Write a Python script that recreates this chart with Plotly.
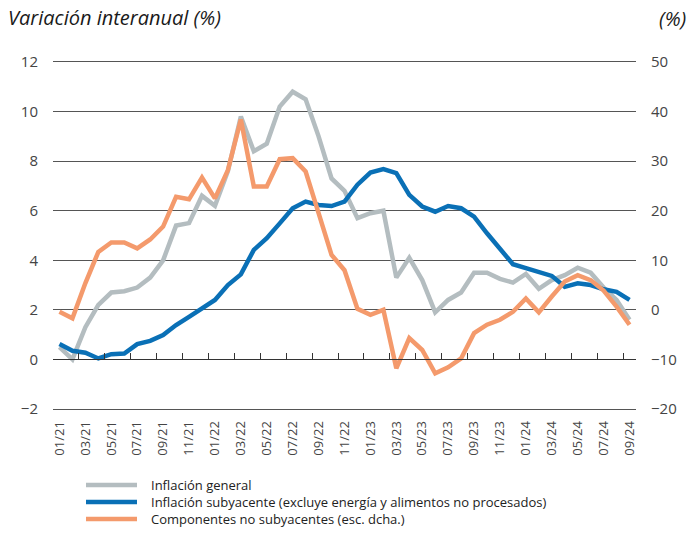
import plotly.graph_objects as go

# ---- data ----
months = [f"{m:02d}/{y:02d}" for y in (21, 22, 23, 24) for m in range(1, 13)][:45]

general = [0.5, 0.0, 1.3, 2.2, 2.7, 2.75, 2.9, 3.3, 4.0, 5.4, 5.5, 6.6,
           6.2, 7.6, 9.8, 8.4, 8.7, 10.2, 10.8, 10.5, 9.0, 7.3, 6.8, 5.7,
           5.9, 6.0, 3.3, 4.1, 3.2, 1.9, 2.4, 2.7, 3.5, 3.5, 3.25, 3.1,
           3.45, 2.85, 3.2, 3.4, 3.7, 3.5, 2.9, 2.4, 1.6]

core = [0.62, 0.35, 0.27, 0.04, 0.21, 0.24, 0.62, 0.75, 0.98, 1.39, 1.72, 2.06,
        2.4, 3.0, 3.43, 4.42, 4.89, 5.49, 6.1, 6.37, 6.23, 6.19, 6.37, 7.05,
        7.54, 7.68, 7.52, 6.64, 6.17, 5.96, 6.19, 6.1, 5.76, 5.09, 4.48, 3.84,
        3.68, 3.54, 3.37, 2.93, 3.07, 3.0, 2.83, 2.73, 2.4]

noncore = [-0.4, -1.7, 5.4, 11.7, 13.6, 13.6, 12.4, 14.2, 16.8, 22.8, 22.3, 26.7,
           22.5, 28.2, 38.4, 24.9, 24.9, 30.4, 30.6, 27.9, 19.5, 11.1, 8.0, 0.2,
           -1.0, 0.0, -11.8, -5.7, -8.1, -12.8, -11.6, -9.8, -4.7, -3.0, -2.0, -0.4,
           2.3, -0.5, 2.7, 5.7, 7.0, 6.0, 3.9, 0.65, -3.0]

names = ["Inflación general",
         "Inflación subyacente (excluye energía y alimentos no procesados)",
         "Componentes no subyacentes (esc. dcha.)"]
colors = ["#b4bdc0", "#0a70b6", "#f49a6c"]

left_range = [-2, 12]
right_range = [-20, 50]
tick_boundaries = [i - 0.5 for i in range(0, 45, 2)]

FONT = "Open Sans, Noto Sans, sans-serif"
GRID = "#555555"
W, H = 693, 534
ML, MR, MT, MB = 53, 57, 62, 125
PW, PH = W - ML - MR, H - MT - MB

fig = go.Figure()
fig.add_trace(go.Scatter(x=months, y=general, name=names[0], mode="lines",
                         line=dict(color=colors[0], width=4.5)))
fig.add_trace(go.Scatter(x=months, y=core, name=names[1], mode="lines",
                         line=dict(color=colors[1], width=4.5)))
fig.add_trace(go.Scatter(x=months, y=noncore, name=names[2], mode="lines",
                         line=dict(color=colors[2], width=4.5), yaxis="y2"))
# empty trace so the tick-axis at zero is rendered
fig.add_trace(go.Scatter(x=[], y=[], xaxis="x2", yaxis="y", showlegend=False,
                         hoverinfo="skip"))

fig.update_layout(
    width=W, height=H,
    margin=dict(l=ML, r=MR, t=MT, b=MB, autoexpand=False),
    paper_bgcolor="white", plot_bgcolor="white",
    font=dict(family=FONT, color="#444444"),
    showlegend=False,
    xaxis=dict(type="category", range=[-0.5, 44.5], tickmode="array",
               tickvals=months[::2], ticktext=months[::2], tickangle=-90,
               ticks="", showline=True, linecolor=GRID, linewidth=1, mirror=True,
               showgrid=False, zeroline=False, tickfont=dict(size=13, color="#444444"),
               ticklabelstandoff=6),
    xaxis2=dict(type="linear", overlaying="x", anchor="free",
                position=(0 - left_range[0]) / (left_range[1] - left_range[0]),
                range=[-0.5, 44.5], tickmode="array", tickvals=tick_boundaries,
                ticks="inside", ticklen=6, tickcolor="#333333", tickwidth=1,
                showticklabels=False, showline=True, linecolor="#333333",
                showgrid=False, zeroline=False),
    yaxis=dict(range=left_range, dtick=2, tick0=0, showgrid=True, gridcolor=GRID,
               gridwidth=1, zeroline=False, showline=False, ticks="",
               tickfont=dict(size=15, color="#444444"), ticklabelstandoff=14),
    yaxis2=dict(range=right_range, dtick=10, tick0=0, overlaying="y", side="right",
                showgrid=False, zeroline=False, showline=False, ticks="",
                tickfont=dict(size=15, color="#444444"), ticklabelstandoff=14),
    title=dict(text="Variación interanual (%)", xref="container", yref="container",
               x=8 / W, y=1 - 18 / H, xanchor="left", yanchor="middle",
               font=dict(family=FONT, size=20, color="#1a1a1a", style="italic")),
)

fig.add_annotation(text="(%)", xref="paper", yref="paper",
                   x=(688 - ML) / PW, y=1 + (MT - 18) / PH,
                   xanchor="right", yanchor="middle", showarrow=False,
                   font=dict(family=FONT, size=20, color="#1a1a1a", style="italic"))

# legend (key lines + labels) below the chart
def px_x(p):
    return (p - ML) / PW

def px_y(p):
    return 1 - (p - MT) / PH

for k, (nm, col) in enumerate(zip(names, colors)):
    yy = 485 + 17 * k
    fig.add_shape(type="line", xref="paper", yref="paper",
                  x0=px_x(86), x1=px_x(137), y0=px_y(yy), y1=px_y(yy),
                  line=dict(color=col, width=4.5))
    fig.add_annotation(text=nm, xref="paper", yref="paper", x=px_x(149), y=px_y(yy),
                       xanchor="left", yanchor="middle", showarrow=False,
                       font=dict(family=FONT, size=13, color="#222222"))

fig.write_html("out.html",
               config={"displayModeBar": False},
               post_script="document.body.style.margin='0';"
                           "document.body.style.overflow='hidden';")
